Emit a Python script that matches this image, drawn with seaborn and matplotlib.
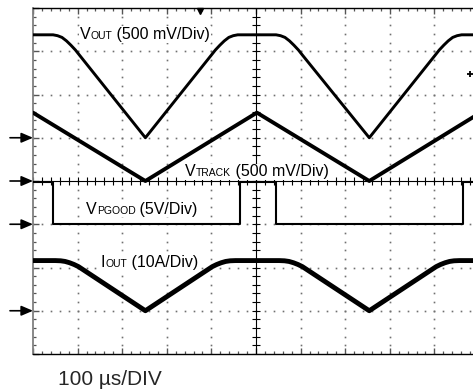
import numpy as np
import pandas as pd
import matplotlib
matplotlib.use("Agg")
import matplotlib.pyplot as plt
import seaborn as sns
from matplotlib.ticker import MultipleLocator
from matplotlib.offsetbox import TextArea, HPacker, AnnotationBbox

# ---- captured waveforms (time in µs, value in channel units) ----
vout_t = [0, 45, 55, 65, 75, 85, 95, 105, 252,
          399, 409, 419, 429, 439, 449, 459,
          545, 555, 565, 575, 585, 595, 605, 754,
          901, 911, 921, 931, 941, 951, 961, 1000]
vout_v = [1.19, 1.19, 1.18, 1.16, 1.12, 1.07, 1.015, 0.95, 0.0,
          0.95, 1.015, 1.07, 1.12, 1.16, 1.18, 1.19,
          1.19, 1.18, 1.16, 1.12, 1.07, 1.015, 0.95, 0.0,
          0.95, 1.015, 1.07, 1.12, 1.16, 1.18, 1.19, 1.19]

vtrack_t = [0, 252, 502, 754, 1000]
vtrack_v = [0.79, 0.0, 0.79, 0.0, 0.78]

pgood_t = [0, 45, 45, 465, 465, 545, 545, 964, 964, 1000]
pgood_v = [4.9, 4.9, 0.0, 0.0, 4.9, 4.9, 0.0, 0.0, 4.9, 4.9]

iout_t = [0, 50, 62, 72, 82, 92, 102, 252,
          402, 412, 422, 432, 442, 454,
          552, 564, 574, 584, 594, 604, 754,
          904, 914, 924, 934, 944, 956, 1000]
iout_a = [11.6, 11.6, 11.55, 11.4, 11.1, 10.7, 10.2, 0.0,
          10.2, 10.7, 11.1, 11.4, 11.55, 11.6,
          11.6, 11.55, 11.4, 11.1, 10.7, 10.2, 0.0,
          10.2, 10.7, 11.1, 11.4, 11.55, 11.6, 11.6]

# channel settings: (units per division, ground level in divisions)
CH_VOUT = (0.5, 5.0)
CH_VTRACK = (0.5, 4.0)
CH_PGOOD = (5.0, 3.0)
CH_IOUT = (10.0, 1.0)

sns.set_style("white")
plt.rcParams["font.family"] = ["Liberation Sans", "DejaVu Sans"]

W, H, DPI = 473, 392, 100
fig = plt.figure(figsize=(W / DPI, H / DPI), dpi=DPI)
ax = fig.add_axes([33 / W, 38 / H, 446 / W, 346 / H])
ax.set_xlim(0, 1000)
ax.set_ylim(0, 8)


def to_div(values, ch):
    scale, ground = ch
    return [ground + v / scale for v in values]


def trace(t, v, ch, lw):
    df = pd.DataFrame({"t": t, "div": to_div(v, ch)})
    sns.lineplot(data=df, x="t", y="div", ax=ax, color="black", lw=lw,
                 estimator=None, sort=False, zorder=5)


# ---- graticule ----
gcol = "#707070"
minor_x = np.arange(0, 1000.1, 20)
minor_y = np.arange(0, 8.01, 0.2)
for gx in range(100, 1000, 100):
    if gx == 500:
        continue
    ax.plot(np.full_like(minor_y, gx), minor_y, ls="none", marker="s",
            ms=1.2, mew=0, color=gcol, zorder=1)
for gy in [1, 2, 3, 5, 6, 7]:
    ax.plot(minor_x, np.full_like(minor_x, gy), ls="none", marker="s",
            ms=1.2, mew=0, color=gcol, zorder=1)

ax.axhline(4, color="black", lw=0.8, zorder=2)
ax.axvline(500, color="black", lw=0.8, zorder=2)
ax.plot(minor_x, np.full_like(minor_x, 4.0), ls="none", marker="|", ms=5.5,
        mew=0.8, color="black", zorder=2)
ax.plot(np.full_like(minor_y, 500.0), minor_y, ls="none", marker="_", ms=5.5,
        mew=0.8, color="black", zorder=2)

ax.xaxis.set_major_locator(MultipleLocator(100))
ax.xaxis.set_minor_locator(MultipleLocator(20))
ax.yaxis.set_major_locator(MultipleLocator(1))
ax.yaxis.set_minor_locator(MultipleLocator(0.2))
ax.tick_params(which="both", direction="in", top=True, right=True, bottom=True,
               left=True, labelbottom=False, labelleft=False, color="#555555")
ax.tick_params(which="major", length=4.5, width=1.0)
ax.tick_params(which="minor", length=2.3, width=0.9)
for side in ["top", "bottom", "right"]:
    ax.spines[side].set_color("black")
    ax.spines[side].set_linewidth(1.0)
ax.spines["left"].set_color("#808080")
ax.spines["left"].set_linewidth(1.3)

# ---- traces ----
trace(vout_t, vout_v, CH_VOUT, 2.1)
trace(vtrack_t, vtrack_v, CH_VTRACK, 2.8)
trace(pgood_t, pgood_v, CH_PGOOD, 1.5)
trace(iout_t, iout_a, CH_IOUT, 3.5)
ax.set_xlabel("")
ax.set_ylabel("")


# ---- channel labels ----
def scope_label(x, y, name, sub, rest):
    parts = [TextArea(name, textprops=dict(size=11.5, color="black")),
             TextArea(sub, textprops=dict(size=7.5, color="black")),
             TextArea(rest, textprops=dict(size=11.5, color="black"))]
    box = HPacker(children=parts, align="baseline", pad=0, sep=0)
    ab = AnnotationBbox(box, (x, y), xycoords="data", box_alignment=(0, 0),
                        frameon=True, pad=0.05,
                        bboxprops=dict(facecolor="white", edgecolor="none"),
                        zorder=4)
    ax.add_artist(ab)


scope_label(105, 7.21, "V", "OUT", " (500 mV/Div)")
scope_label(341, 4.04, "V", "TRACK", " (500 mV/Div)")
scope_label(119, 3.175, "V", "PGOOD", " (5V/Div)")
scope_label(152, 1.942, "I", "OUT", " (10A/Div)")

ax.text(56, -0.717, "100 µs/DIV", fontsize=15, va="baseline", ha="left",
        clip_on=False)

# ---- ground reference arrows ----
for ch in [CH_VOUT, CH_VTRACK, CH_PGOOD, CH_IOUT]:
    ax.annotate("", xy=(0, ch[1]), xycoords="data", xytext=(-23, 0),
                textcoords="offset pixels", annotation_clip=False,
                arrowprops=dict(arrowstyle="-|>,head_length=0.7,head_width=0.3",
                                color="black", lw=1.2, shrinkA=0, shrinkB=0,
                                mutation_scale=10))

# trigger position and trigger level markers
ax.plot([374], [7.93], marker="v", ms=5, color="black", ls="none", clip_on=False, zorder=6)
ax.plot([980], [6.47], marker="+", ms=5, mew=1.3, color="black", ls="none", zorder=6)

fig.savefig("out.png", dpi=DPI)
